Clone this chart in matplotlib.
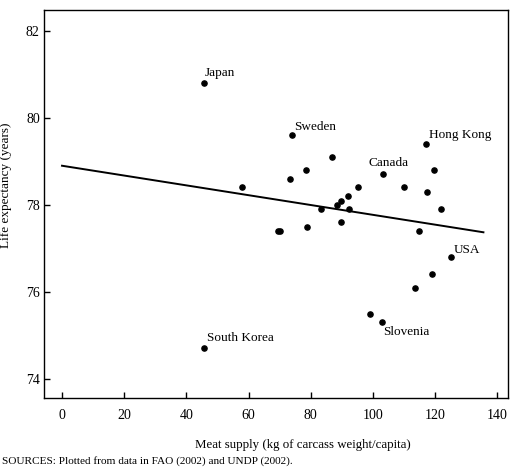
import matplotlib
matplotlib.use("Agg")
import matplotlib.pyplot as plt

plt.rcParams["font.family"] = ["Liberation Serif", "DejaVu Serif"]

# meat supply (kg/capita) vs life expectancy (years)
meat = [45.6, 73.8, 117.0, 103.3, 125.0, 102.9, 45.8,
        86.7, 78.4, 73.4, 119.5, 95.3, 110.0, 117.3, 92.0, 89.7, 88.3,
        83.4, 92.3, 121.7, 69.3, 70.2, 78.7, 89.6, 114.7, 118.9, 113.6,
        99.1, 58.0]
life = [80.8, 79.6, 79.4, 78.7, 76.8, 75.3, 74.7,
        79.1, 78.8, 78.6, 78.8, 78.4, 78.4, 78.3, 78.2, 78.1, 78.0,
        77.9, 77.9, 77.9, 77.4, 77.4, 77.5, 77.6, 77.4, 76.4, 76.1,
        75.5, 78.4]
# first seven points are labelled
names = ["Japan", "Sweden", "Hong Kong", "Canada", "USA", "Slovenia",
         "South Korea"]

# fitted trend line end points
trend_x = [0, 135.5]
trend_y = [78.9, 77.37]

xticks = [0, 20, 40, 60, 80, 100, 120, 140]
yticks = [74, 76, 78, 80, 82]

# label offsets in points (dx, dy, ha, va)
label_pos = {
    "Japan": (1, 3, "left", "bottom"),
    "Sweden": (2, 2, "left", "bottom"),
    "Hong Kong": (2, 2, "left", "bottom"),
    "Canada": (4, 4, "center", "bottom"),
    "USA": (2, 1, "left", "bottom"),
    "Slovenia": (1, -3, "left", "top"),
    "South Korea": (2, 3, "left", "bottom"),
}

fig = plt.figure(figsize=(5.15, 4.74), dpi=100)
ax = fig.add_axes([0.0854, 0.1603, 0.901, 0.8186])

ax.plot(trend_x, trend_y, color="black", lw=1.4)
ax.scatter(meat, life, s=14, color="black", zorder=3)

for i, name in enumerate(names):
    dx, dy, ha, va = label_pos[name]
    ax.annotate(name, (meat[i], life[i]), xytext=(dx, dy),
                textcoords="offset points", ha=ha, va=va, fontsize=9.5)

ax.set_xlim(-5.8, 143.4)
ax.set_ylim(73.56, 82.48)
ax.set_xticks(xticks)
ax.set_yticks(yticks)
ax.tick_params(direction="in", length=4, width=1, labelsize=10)
ax.tick_params(axis="x", pad=8)
ax.tick_params(axis="y", pad=3)
for sp in ax.spines.values():
    sp.set_linewidth(1)

ax.set_xlabel("Meat supply (kg of carcass weight/capita)", fontsize=9.3)
ax.xaxis.set_label_coords(0.558, -0.105)
ax.set_ylabel("Life expectancy (years)", fontsize=9.5)
ax.yaxis.set_label_coords(-0.068, 0.549)

fig.text(0.004, 0.016, "SOURCES: Plotted from data in FAO (2002) and UNDP (2002).",
         fontsize=8.1, ha="left", va="bottom")

fig.savefig("out.png", dpi=100)
